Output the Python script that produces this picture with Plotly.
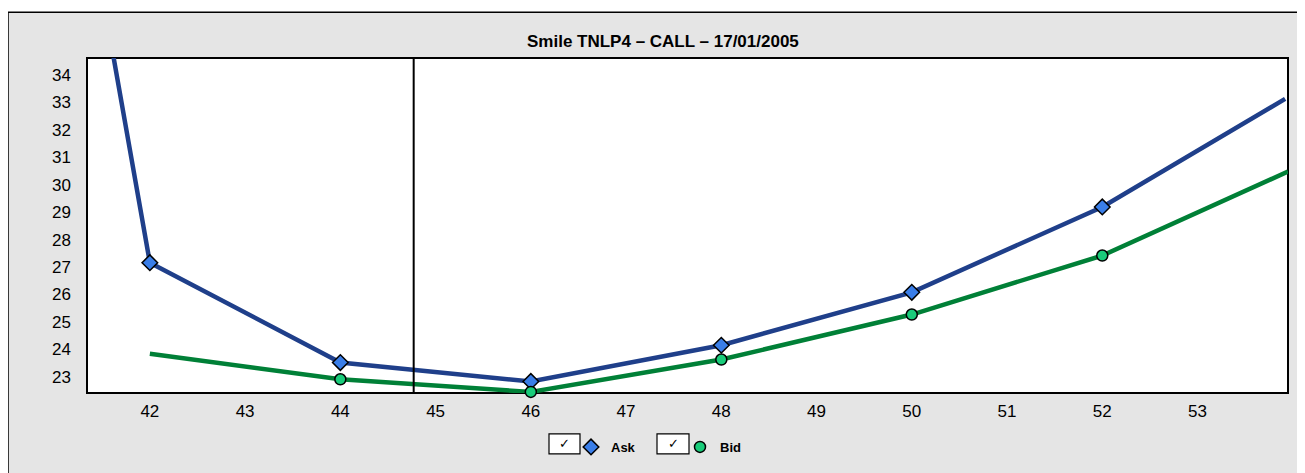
import plotly.graph_objects as go

# Data
ask_strikes = [42, 44, 46, 48, 50, 52]
ask_vals = [27.16, 23.52, 22.83, 24.15, 26.08, 29.19]
bid_strikes = [44, 46, 48, 50, 52]
bid_vals = [22.91, 22.45, 23.63, 25.27, 27.42]
# smile curves (lines) including extrapolated ends
ask_curve_x = [41.5, 42, 44, 46, 48, 50, 52, 53.92]
ask_curve_y = [36.98, 27.16, 23.52, 22.83, 24.15, 26.08, 29.19, 33.13]
bid_curve_x = [42, 44, 46, 48, 50, 52, 53.95]
bid_curve_y = [23.84, 22.91, 22.45, 23.63, 25.27, 27.42, 30.48]
spot = 44.77
x_ticks = [42, 43, 44, 45, 46, 47, 48, 49, 50, 51, 52, 53]
y_ticks = [23, 24, 25, 26, 27, 28, 29, 30, 31, 32, 33, 34]
title_text = "Smile TNLP4 – CALL – 17/01/2005"

OFF = 8  # page body margin
W, H = 1305 - OFF, 473 - OFF
# plot area in screen pixels
SL, SR, ST, SB = 87, 1288, 58, 394
L, R, T, B = SL - OFF, SR - OFF, ST - OFF, SB - OFF

def px(x):
    return (x - SL) / (SR - SL)

def py(y):
    return (SB - y) / (SB - ST)

FONT = "Liberation Sans, Arial, Helvetica, sans-serif"
ASK_LINE = "#1f3f8a"
BID_LINE = "#008037"
ASK_MK = "#3a7ee8"
BID_MK = "#19cc7a"

fig = go.Figure()
fig.add_trace(go.Scatter(x=ask_curve_x, y=ask_curve_y, mode="lines",
                         line=dict(color=ASK_LINE, width=4.5), showlegend=False, hoverinfo="skip"))
fig.add_trace(go.Scatter(x=bid_curve_x, y=bid_curve_y, mode="lines",
                         line=dict(color=BID_LINE, width=4.5), showlegend=False, hoverinfo="skip"))
fig.add_trace(go.Scatter(x=ask_strikes, y=ask_vals, mode="markers", name="Ask",
                         marker=dict(symbol="diamond", size=12, color=ASK_MK,
                                     line=dict(color="black", width=1.5)), cliponaxis=False))
fig.add_trace(go.Scatter(x=bid_strikes, y=bid_vals, mode="markers", name="Bid",
                         marker=dict(symbol="circle", size=11, color=BID_MK,
                                     line=dict(color="black", width=1.5)), cliponaxis=False))

shapes = [
    # outer gray frame
    dict(type="rect", xref="paper", yref="paper", x0=px(8), x1=px(1320), y0=py(490), y1=py(12),
         fillcolor="#e5e5e5", line=dict(color="black", width=1.5), layer="below"),
    # plot area background
    dict(type="rect", xref="paper", yref="paper", x0=0, x1=1, y0=0, y1=1,
         fillcolor="white", line=dict(color="black", width=2), layer="below"),
    # spot vertical line
    dict(type="line", xref="x", yref="paper", x0=spot, x1=spot, y0=0, y1=1,
         line=dict(color="black", width=2)),
    # checkboxes
    dict(type="rect", xref="paper", yref="paper", x0=px(549), x1=px(580), y0=py(455), y1=py(435),
         fillcolor="white", line=dict(color="black", width=1.2)),
    dict(type="rect", xref="paper", yref="paper", x0=px(657), x1=px(689), y0=py(455), y1=py(435),
         fillcolor="white", line=dict(color="black", width=1.2)),
]

annotations = [
    dict(text="<b>" + title_text + "</b>", xref="paper", yref="paper", x=px(662.5), y=py(41),
         xanchor="center", yanchor="middle", showarrow=False,
         font=dict(size=17, color="black", family=FONT)),
    dict(text="✓", xref="paper", yref="paper", x=px(564.5), y=py(445), xanchor="center", yanchor="middle",
         showarrow=False, font=dict(size=13, color="black", family="DejaVu Sans")),
    dict(text="✓", xref="paper", yref="paper", x=px(673), y=py(445), xanchor="center", yanchor="middle",
         showarrow=False, font=dict(size=13, color="black", family="DejaVu Sans")),
]

fig.update_layout(
    width=W, height=H,
    margin=dict(l=L, r=W - R, t=T, b=H - B),
    paper_bgcolor="white", plot_bgcolor="white",
    shapes=shapes, annotations=annotations,
    font=dict(family=FONT, size=17, color="black"),
    showlegend=True,
    legend=dict(orientation="h", x=px(571), y=py(447), xanchor="left", yanchor="middle",
                bgcolor="rgba(0,0,0,0)", borderwidth=0, itemwidth=30,
                entrywidth=64, entrywidthmode="pixels",
                font=dict(size=13, family=FONT, color="black", weight="bold")),
    xaxis=dict(range=[41.34, 53.95], tickvals=x_ticks, showgrid=False, zeroline=False,
               showline=False, ticks="", tickfont=dict(size=17), ticklabelstandoff=6),
    yaxis=dict(range=[22.41, 34.62], tickvals=y_ticks, showgrid=False, zeroline=False,
               showline=False, ticks="", tickfont=dict(size=17), ticklabelstandoff=15),
)

fig.write_html("out.html")
